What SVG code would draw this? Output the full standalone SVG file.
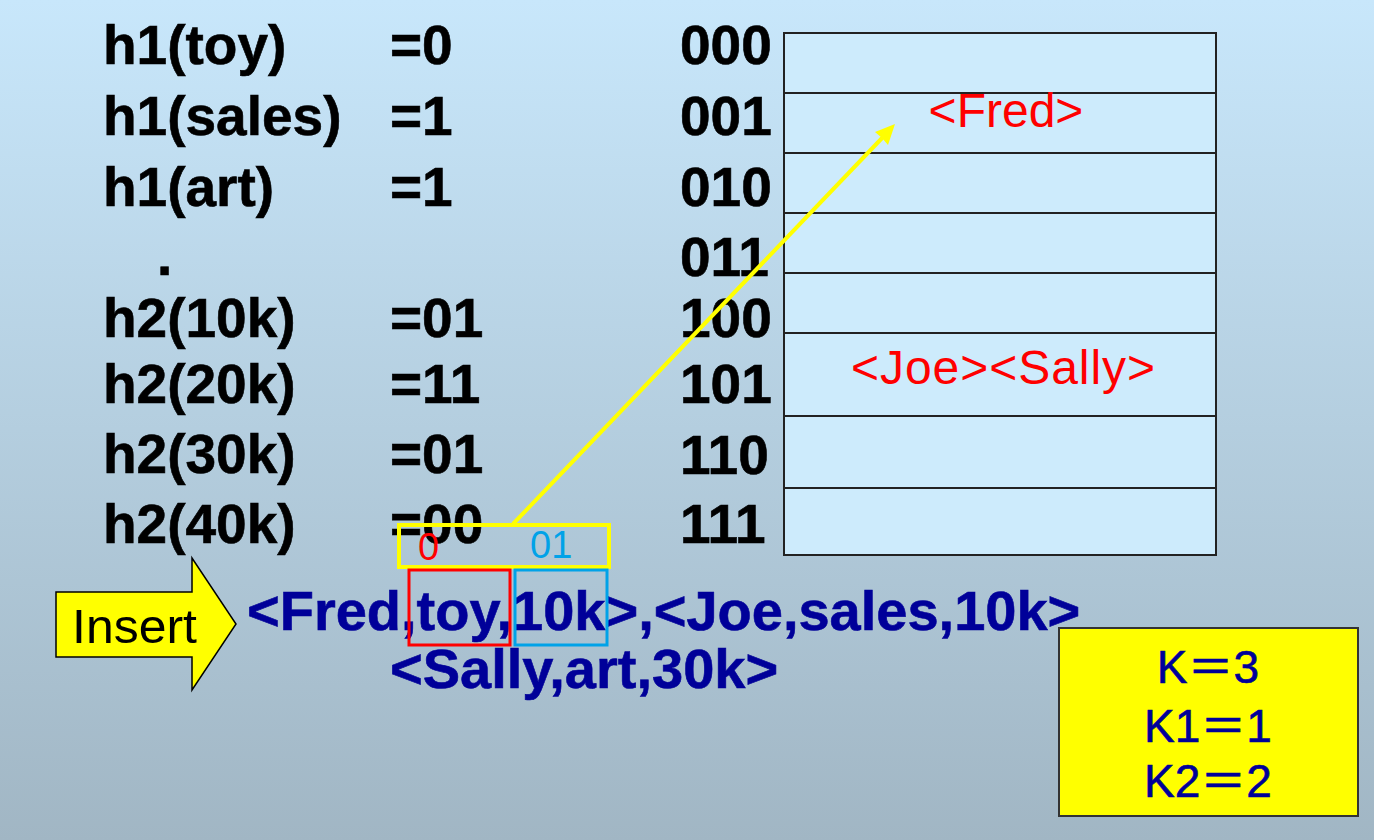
<svg xmlns="http://www.w3.org/2000/svg" width="1374" height="840" viewBox="0 0 1374 840">
<defs>
<linearGradient id="bg" x1="0" y1="0" x2="0" y2="1">
<stop offset="0" stop-color="#c8e7fb"/>
<stop offset="1" stop-color="#a1b6c4"/>
</linearGradient>
<style>
.b{font-family:"Liberation Sans",Arial,sans-serif;font-weight:bold;font-size:55px;fill:#000;stroke:#000;stroke-width:0.6px}
.bl{font-family:"Liberation Sans",Arial,sans-serif;font-weight:bold;font-size:56px;fill:#000099;stroke:#000099;stroke-width:0.6px}
.red{font-family:"Liberation Sans",Arial,sans-serif;font-size:48px;fill:#ff0000}
.cell{fill:#cdebfc;stroke:#222;stroke-width:2}
.k{font-family:"Liberation Sans","Noto Sans CJK SC",sans-serif;font-size:46px;fill:#000099;stroke:#000099;stroke-width:0.6px;text-anchor:middle}
</style>
</defs>
<rect x="0" y="0" width="1374" height="840" fill="url(#bg)"/>

<g id="hash-list">
<text class="b" x="103" y="64">h1(toy)</text>
<text class="b" x="103" y="135">h1(sales)</text>
<text class="b" x="103" y="206">h1(art)</text>
<text class="b" x="157" y="275">.</text>
<text class="b" x="103" y="337">h2(10k)</text>
<text class="b" x="103" y="403">h2(20k)</text>
<text class="b" x="103" y="473">h2(30k)</text>
<text class="b" x="103" y="543">h2(40k)</text>
<text class="b" x="390" y="64">=0</text>
<text class="b" x="390" y="135">=1</text>
<text class="b" x="390" y="206">=1</text>
<text class="b" x="390" y="337">=01</text>
<text class="b" x="390" y="403">=11</text>
<text class="b" x="390" y="473">=01</text>
<text class="b" x="390" y="543">=00</text>
</g>

<g id="bucket-labels">
<text class="b" x="680" y="64">000</text>
<text class="b" x="680" y="135">001</text>
<text class="b" x="680" y="206">010</text>
<text class="b" x="680" y="276">011</text>
<text class="b" x="680" y="337">100</text>
<text class="b" x="680" y="403">101</text>
<text class="b" x="680" y="474">110</text>
<text class="b" x="680" y="543">111</text>
</g>

<g id="bucket-table">
<rect class="cell" x="784" y="33" width="432" height="60"/>
<rect class="cell" x="784" y="93" width="432" height="60"/>
<rect class="cell" x="784" y="153" width="432" height="60"/>
<rect class="cell" x="784" y="213" width="432" height="60"/>
<rect class="cell" x="784" y="273" width="432" height="60"/>
<rect class="cell" x="784" y="333" width="432" height="83"/>
<rect class="cell" x="784" y="416" width="432" height="72"/>
<rect class="cell" x="784" y="488" width="432" height="67"/>
<text class="red" x="1006" y="127" text-anchor="middle">&lt;Fred&gt;</text>
<text class="red" x="1003" y="384" text-anchor="middle" textLength="304">&lt;Joe&gt;&lt;Sally&gt;</text>
</g>

<g id="hash-bits">
<rect x="399" y="525" width="210" height="42" fill="none" stroke="#ffff00" stroke-width="4"/>
<text x="418" y="560" font-family="Liberation Sans,Arial,sans-serif" font-size="38" fill="#ff0000">0</text>
<text x="530" y="558" font-family="Liberation Sans,Arial,sans-serif" font-size="38" fill="#00a2e8">01</text>
</g>

<g id="insert-arrow">
<path d="M56,592 L192,592 L192,558 L236,624 L192,690 L192,657 L56,657 Z" fill="#ffff00" stroke="#000" stroke-width="1.5"/>
<text x="72" y="643" font-family="Liberation Sans,Arial,sans-serif" font-size="49" fill="#000" textLength="125" lengthAdjust="spacingAndGlyphs">Insert</text>
</g>

<g id="records">
<text class="bl" x="247" y="630">&lt;Fred,toy,10k&gt;,&lt;Joe,sales,10k&gt;</text>
<text class="bl" x="390" y="688">&lt;Sally,art,30k&gt;</text>
<rect x="409" y="570" width="101" height="75" fill="none" stroke="#ff0000" stroke-width="3"/>
<rect x="515" y="570" width="92" height="75" fill="none" stroke="#00a2e8" stroke-width="3"/>
</g>

<g id="params">
<rect x="1059" y="628" width="299" height="188" fill="#ffff00" stroke="#333" stroke-width="2"/>
<text class="k" x="1208" y="683">K＝3</text>
<text class="k" x="1208" y="742">K1＝1</text>
<text class="k" x="1208" y="797">K2＝2</text>
</g>

<g id="connectors">
<line x1="513" y1="524" x2="884" y2="136" stroke="#ffff00" stroke-width="4"/>
<polygon points="895,124 888,145 882,138 875,132" fill="#ffff00"/>
</g>
</svg>
